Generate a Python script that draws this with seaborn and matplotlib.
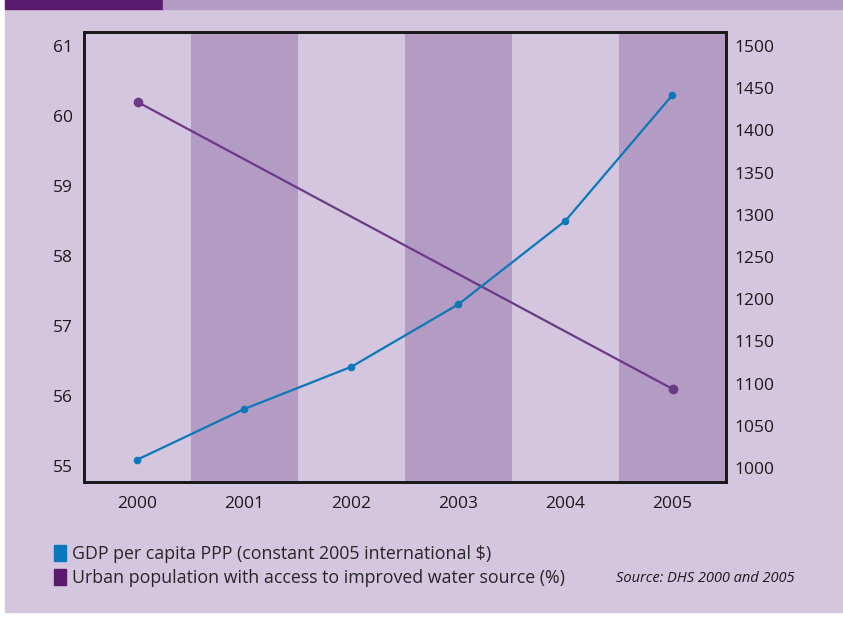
import matplotlib
matplotlib.use("Agg")
import matplotlib.pyplot as plt
import seaborn as sns
import pandas as pd
from matplotlib.patches import Patch, Rectangle

years = [2000, 2001, 2002, 2003, 2004, 2005]
gdp = [1010, 1070, 1120, 1194, 1293, 1442]
water_years = [2000, 2005]
water = [60.2, 56.1]

gdp_label = "GDP per capita PPP (constant 2005 international $)"
water_label = "Urban population with access to improved water source (%)"
source = "Source: DHS 2000 and 2005"

bg = "#d5c6df"
band = "#b49bc3"
blue = "#0b78ba"
purple = "#6a3a88"
dark = "#5a1a6e"

sns.set_style("white")
plt.rcParams["font.family"] = ["Open Sans", "DejaVu Sans"]

fig = plt.figure(figsize=(8.43, 6.18), dpi=100, facecolor="white")
# lavender panel and top strip
fig.patches.append(Rectangle((5 / 843, 6 / 618), 837 / 843, 612 / 618, transform=fig.transFigure,
                             color=bg, zorder=-10))
fig.patches.append(Rectangle((5 / 843, 609 / 618), 158 / 843, 9 / 618, transform=fig.transFigure,
                             color=dark, zorder=-9))
fig.patches.append(Rectangle((163 / 843, 609 / 618), 680 / 843, 9 / 618, transform=fig.transFigure,
                             color=band, zorder=-9))

ax = fig.add_axes([84 / 843, 136 / 618, 642 / 843, 450 / 618])
ax.set_facecolor(bg)
for i, yr in enumerate(years):
    if i % 2 == 1:
        ax.axvspan(yr - 0.5, yr + 0.5, color=band, lw=0, zorder=0)

df_w = pd.DataFrame({"year": water_years, "value": water})
sns.lineplot(data=df_w, x="year", y="value", ax=ax, color=purple, lw=1.6,
             marker="o", markersize=7, markeredgewidth=0, zorder=3)
ax.set_xlim(years[0] - 0.5, years[-1] + 0.5)
ax.set_ylim(54.77, 61.2)
ax.set_yticks(range(55, 62))

ax2 = ax.twinx()
df_g = pd.DataFrame({"year": years, "value": gdp})
sns.lineplot(data=df_g, x="year", y="value", ax=ax2, color=blue, lw=1.6,
             marker="o", markersize=5.5, markeredgewidth=0, zorder=3)
ax2.set_ylim(983.4, 1516.6)
ax2.set_yticks(range(1000, 1501, 50))

for a in (ax, ax2):
    a.set_xlabel("")
    a.set_ylabel("")
    a.set_xticks(years)
    a.tick_params(length=0, labelsize=12.5, colors="#1a1a1a", pad=8)
    for s in a.spines.values():
        s.set_color("#1a1a1a")
        s.set_linewidth(2)
ax2.tick_params(axis="y", pad=6)
ax.tick_params(axis="x", pad=10)

handles = [Patch(color=blue, label=gdp_label), Patch(color=dark, label=water_label)]
fig.legend(handles=handles, loc="upper left", bbox_to_anchor=(54 / 843, 1 - 545 / 618),
           frameon=False, fontsize=12.8, handlelength=0.65, handleheight=1.05,
           handletextpad=0.35, labelspacing=0.3, borderaxespad=0, borderpad=0)
fig.text(795 / 843, 1 - 579 / 618, source, ha="right", va="center", fontsize=10.5,
         style="italic", color="#1a1a1a")

fig.savefig("out.png", dpi=100, facecolor=fig.get_facecolor())
